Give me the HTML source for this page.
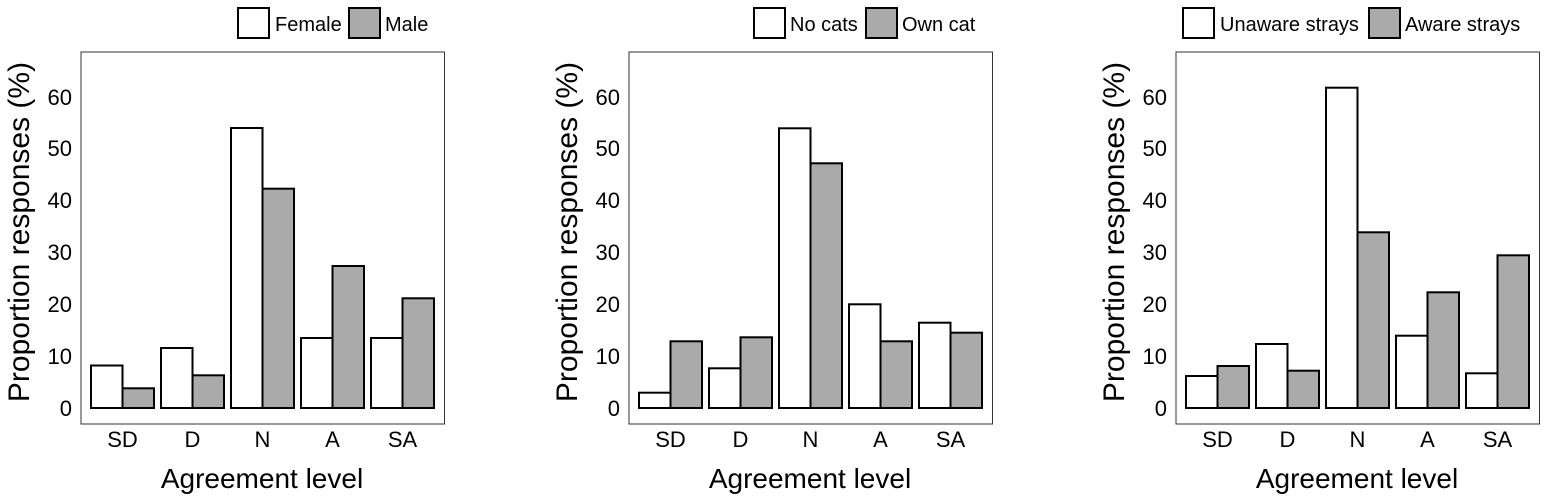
<!DOCTYPE html>
<html><head><meta charset="utf-8"><style>
html,body{margin:0;padding:0;background:#fff;}
svg{display:block;font-family:"Liberation Sans",Arial,sans-serif;}
</style></head><body>
<svg width="1547" height="502" viewBox="0 0 1547 502" xmlns="http://www.w3.org/2000/svg">
<defs>
<g id="axes">
  <rect x="81" y="52" width="363.5" height="372" fill="none" stroke="#333" stroke-width="1"/>
  <g font-size="22" text-anchor="end" fill="#000">
    <text x="72" y="416">0</text>
    <text x="72" y="364">10</text>
    <text x="72" y="312">20</text>
    <text x="72" y="260">30</text>
    <text x="72" y="208">40</text>
    <text x="72" y="156">50</text>
    <text x="72" y="105">60</text>
  </g>
  <g font-size="22" text-anchor="middle">
    <text x="122.5" y="447">SD</text>
    <text x="192.5" y="447">D</text>
    <text x="262.5" y="447">N</text>
    <text x="332.5" y="447">A</text>
    <text x="402.5" y="447">SA</text>
  </g>
  <text x="262" y="488" font-size="28" text-anchor="middle">Agreement level</text>
  <text transform="translate(29,232) rotate(-90)" font-size="30" text-anchor="middle">Proportion responses (%)</text>
</g>
</defs>
<g stroke="#000" stroke-width="2">
<!-- Panel 1 -->
<g>
  <use href="#axes" stroke="none"/>
  <rect x="91" y="365.5" width="31.5" height="42.5" fill="#fff"/>
  <rect x="122.5" y="388.3" width="31.5" height="19.7" fill="#aaa"/>
  <rect x="161" y="348" width="31.5" height="60" fill="#fff"/>
  <rect x="192.5" y="375.3" width="31.5" height="32.7" fill="#aaa"/>
  <rect x="231" y="128" width="31.5" height="280" fill="#fff"/>
  <rect x="262.5" y="188.7" width="31.5" height="219.3" fill="#aaa"/>
  <rect x="301" y="338" width="31.5" height="70" fill="#fff"/>
  <rect x="332.5" y="266" width="31.5" height="142" fill="#aaa"/>
  <rect x="371" y="338" width="31.5" height="70" fill="#fff"/>
  <rect x="402.5" y="298.3" width="31.5" height="109.7" fill="#aaa"/>
  <rect x="238" y="8" width="31" height="30" fill="#fff"/>
  <rect x="349" y="8" width="31" height="30" fill="#aaa"/>
  <g stroke="none" font-size="20"><text x="275" y="31">Female</text><text x="385" y="31">Male</text></g>
</g>
<!-- Panel 2 -->
<g transform="translate(548,0)">
  <use href="#axes" stroke="none"/>
  <rect x="91" y="392.7" width="31.5" height="15.3" fill="#fff"/>
  <rect x="122.5" y="341.3" width="31.5" height="66.7" fill="#aaa"/>
  <rect x="161" y="368.3" width="31.5" height="39.7" fill="#fff"/>
  <rect x="192.5" y="337.3" width="31.5" height="70.7" fill="#aaa"/>
  <rect x="231" y="128.3" width="31.5" height="279.7" fill="#fff"/>
  <rect x="262.5" y="163.3" width="31.5" height="244.7" fill="#aaa"/>
  <rect x="301" y="304.3" width="31.5" height="103.7" fill="#fff"/>
  <rect x="332.5" y="341.3" width="31.5" height="66.7" fill="#aaa"/>
  <rect x="371" y="322.7" width="31.5" height="85.3" fill="#fff"/>
  <rect x="402.5" y="332.7" width="31.5" height="75.3" fill="#aaa"/>
  <rect x="206" y="8" width="31" height="30" fill="#fff"/>
  <rect x="318" y="8" width="31" height="30" fill="#aaa"/>
  <g stroke="none" font-size="20"><text x="242" y="31">No cats</text><text x="354" y="31">Own cat</text></g>
</g>
<!-- Panel 3 -->
<g transform="translate(1095,0)">
  <use href="#axes" stroke="none"/>
  <rect x="91" y="376" width="31.5" height="32" fill="#fff"/>
  <rect x="122.5" y="366" width="31.5" height="42" fill="#aaa"/>
  <rect x="161" y="344" width="31.5" height="64" fill="#fff"/>
  <rect x="192.5" y="370.7" width="31.5" height="37.3" fill="#aaa"/>
  <rect x="231" y="87.7" width="31.5" height="320.3" fill="#fff"/>
  <rect x="262.5" y="232.3" width="31.5" height="175.7" fill="#aaa"/>
  <rect x="301" y="335.7" width="31.5" height="72.3" fill="#fff"/>
  <rect x="332.5" y="292.3" width="31.5" height="115.7" fill="#aaa"/>
  <rect x="371" y="373.3" width="31.5" height="34.7" fill="#fff"/>
  <rect x="402.5" y="255.3" width="31.5" height="152.7" fill="#aaa"/>
  <rect x="88" y="8" width="31" height="30" fill="#fff"/>
  <rect x="274" y="8" width="31" height="30" fill="#aaa"/>
  <g stroke="none" font-size="20"><text x="125" y="31">Unaware strays</text><text x="310" y="31">Aware strays</text></g>
</g>
</g>
</svg>
</body></html>
